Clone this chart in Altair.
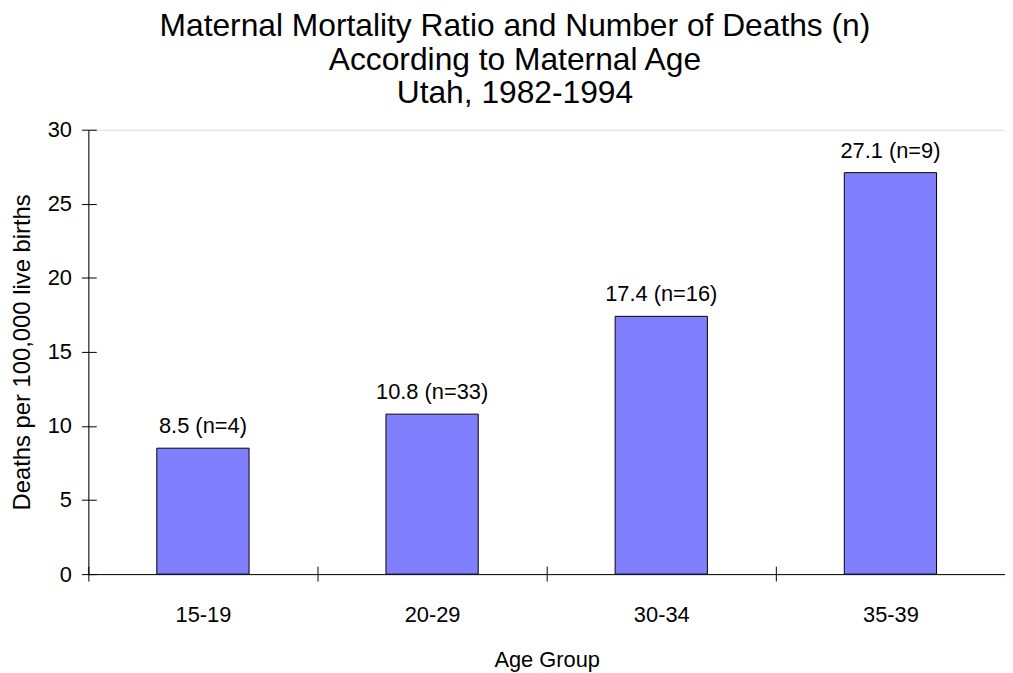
import altair as alt
import pandas as pd

FONT = "Liberation Sans"

age_groups = ["15-19", "20-29", "30-34", "35-39"]
ratios = [8.5, 10.8, 17.4, 27.1]
deaths = [4, 33, 16, 9]
labels = [f"{r} (n={n})" for r, n in zip(ratios, deaths)]
y_ticks = [0, 5, 10, 15, 20, 25, 30]

df = pd.DataFrame({"age": age_groups, "ratio": ratios, "n": deaths, "label": labels})

xscale = alt.Scale(paddingInner=0, paddingOuter=0)
yscale = alt.Scale(domain=[0, 30])

x_main = alt.X(
    "age:N", sort=age_groups, scale=xscale,
    axis=alt.Axis(
        orient="bottom", title="Age Group", tickBand="extent", tickSize=7,
        tickColor="black", domainColor="black", labelAngle=0,
        labelFontSize=22, labelFont=FONT, labelColor="black", labelPadding=24,
        titleFontSize=22, titleFont=FONT, titleFontWeight="normal", titleColor="black",
        titlePadding=24, grid=False,
    ),
)
y_main = alt.Y(
    "ratio:Q", scale=yscale,
    axis=alt.Axis(
        orient="left", title="Deaths per 100,000 live births", values=y_ticks,
        tickSize=7, tickColor="black", domainColor="black",
        labelFontSize=22, labelFont=FONT, labelColor="black", labelPadding=10,
        titleFontSize=24, titleFont=FONT, titleFontWeight="normal", titleColor="black",
        titleAngle=-90, titleAlign="center", titleBaseline="alphabetic",
        titleX=-59, titleY=224, grid=False,
    ),
)

bars = alt.Chart(df).mark_bar(size=93, fill="#8080FF", stroke="black", strokeWidth=1).encode(
    x=x_main, y=y_main
)

text = alt.Chart(df).mark_text(baseline="bottom", dy=-10, fontSize=22, font=FONT, color="black").encode(
    x=alt.X("age:N", sort=age_groups, scale=xscale, axis=None),
    y=alt.Y("ratio:Q", scale=yscale, axis=None),
    text="label:N",
)

inner = alt.Chart(df).mark_point(opacity=0).encode(
    x=alt.X("age:N", sort=age_groups, scale=xscale,
            axis=alt.Axis(orient="bottom", offset=-8, tickSize=8, tickBand="extent", tickColor="black",
                          labels=False, domain=False, title=None, grid=False)),
    y=alt.Y("ratio:Q", scale=yscale,
            axis=alt.Axis(orient="left", offset=-8, tickSize=8, tickColor="black", values=y_ticks,
                          labels=False, domain=False, title=None, grid=False)),
)

chart = (
    alt.layer(bars, text, inner)
    .resolve_axis(x="independent", y="independent")
    .properties(
        width=924, height=448,
        autosize=alt.AutoSizeParams(type="none"),
        padding={"left": 81, "top": 120, "right": 0, "bottom": 97},
        title=alt.TitleParams(
            ["Maternal Mortality Ratio and Number of Deaths (n)", "According to Maternal Age", "Utah, 1982-1994"],
            fontSize=32, font=FONT, fontWeight="normal", color="black",
            lineHeight=33.5, anchor="middle", dx=-32, offset=9,
        ),
    )
    .configure_view(stroke=None)
    .configure(background="white")
)

chart.save("out.html", embed_options={"renderer": "svg", "actions": False})
